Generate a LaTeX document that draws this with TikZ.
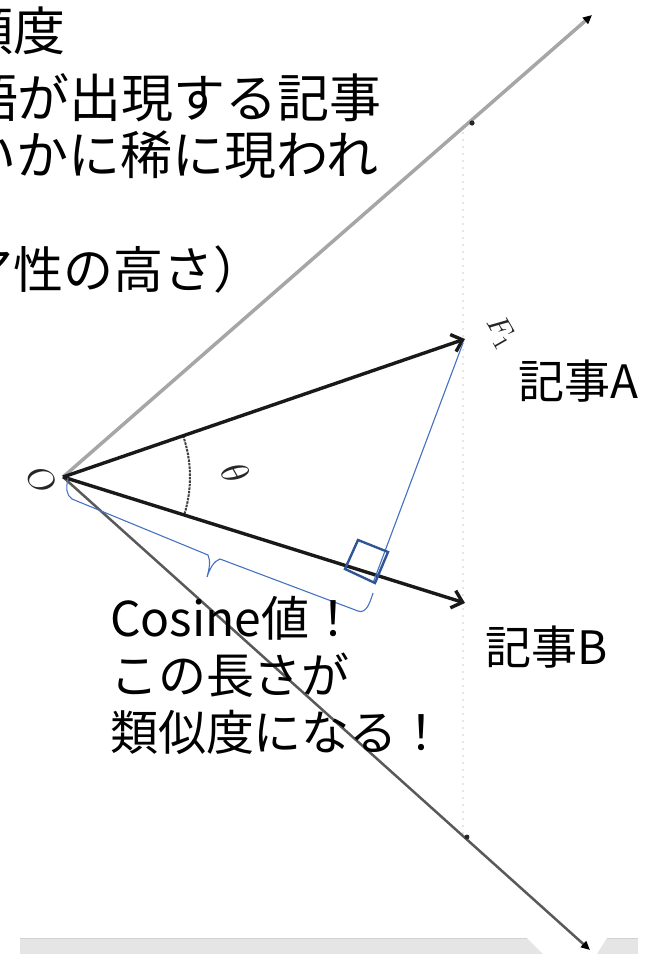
\documentclass[tikz,border=0pt]{standalone}
\usepackage{fontspec}
\setmainfont{Noto Sans CJK JP}
\usetikzlibrary{arrows.meta}
\definecolor{officeblue}{RGB}{68,114,196}
\definecolor{darkblue}{RGB}{47,85,151}
\begin{document}
\begin{tikzpicture}[x=1pt,y=-1pt,
  txt/.style={inner sep=0pt, outer sep=0pt, text=black},
  bigtxt/.style={txt, font=\fontsize{52}{57}\selectfont},
  midtxt/.style={txt, font=\fontsize{48}{57}\selectfont},
  arttxt/.style={txt, font=\fontsize{46}{50}\selectfont},
  scan/.style={txt, text=black!85},
  axisA/.style={draw=black!35, line width=3.5pt, -{Triangle[length=9pt,width=8pt,color=black]}},
  axisB/.style={draw=black!65, line width=2.5pt, -{Triangle[length=9pt,width=8pt,color=black]}},
  vec/.style={draw=black!90, line width=3.4pt, -{Straight Barb[length=10pt,width=18pt]}},
  blueline/.style={draw=officeblue, line width=1.1pt},
  sq/.style={draw=darkblue, line width=2.4pt},
  tickmark/.style={fill=black!85},
  band/.style={fill=black!10, draw=none}
]
\useasboundingbox (0,0) rectangle (654,954);
\clip (0,0) rectangle (654,954);

% bottom grey band with white notch
\fill[band] (20,954) -- (20,938) -- (527,938) -- (543,954) -- cycle;
\fill[band] (597,954) -- (607,938) -- (638,938) -- (638,954) -- cycle;
\draw[black!18, line width=0.8pt] (20,938) -- (527,938) (607,938) -- (638,938);

% coordinates
\coordinate (O) at (63,477);
\coordinate (Xtip) at (592,15);
\coordinate (Ytip) at (590,950);
\coordinate (A) at (465,339);
\coordinate (B) at (465,603);
\coordinate (Afoot) at (463,343);
\coordinate (P) at (373,583);
\coordinate (V1) at (463,125);
\coordinate (V2) at (463,835);

% faint dotted vertical
\draw[black!10, line width=1.5pt, dash pattern=on 2pt off 5pt] (V1) -- (V2);

% axes
\draw[axisA] (O) -- (Xtip);
\draw[axisB] (O) -- (Ytip);
\fill[tickmark] (472,123) circle (2.6);
\fill[tickmark] (467,837) circle (2.4);

% theta arc
\draw[black!75, line width=2pt, dash pattern=on 2.5pt off 1pt]
  (O) ++(-19:127) arc[start angle=-19, end angle=17, radius=127];

% vectors
\draw[vec] (O) -- (A);
\draw[vec] (O) -- (B);

% blue perpendicular, right-angle square, brace
\draw[blueline] (Afoot) -- (P);
\draw[sq] (358,540) -- (388,552) -- (375,583) -- (345,569) -- cycle;
\draw[blueline] (68,478) .. controls (66,488) and (66,495) .. (72,499) -- (208,555)
  .. controls (211,561) and (209,570) .. (207,577)
  .. controls (210,568) and (214,561) .. (220,559) -- (358,611)
  .. controls (366,614) and (370,603) .. (373,593);

% scanned labels
\node[scan, rotate=-55] (lO) at (42,480) {\scalebox{3.4}{$O$}};
\node[scan, rotate=-60] (lth) at (236,473) {\scalebox{3.8}{$\theta$}};
\node[scan, rotate=-60] (lF) at (501,333) {\scalebox{3.0}{$F_1$}};

% top-left text (cut at left edge)
\node[bigtxt, anchor=base west] (t1) at (-38,50) {頻度};
\node[bigtxt, anchor=base west] (t2) at (-34,117) {語が出現する記事};
\node[bigtxt, anchor=base west] (t3) at (-35,174) {いかに稀に現われ};
\node[txt, font=\fontsize{50}{57}\selectfont, anchor=base west] (t5) at (-36,288) {ア性の高さ）};

% article labels
\node[arttxt, anchor=base west] (artA) at (518,398) {記事A};
\node[arttxt, anchor=base west] (artB) at (485,664) {記事B};

% explanation
\node[midtxt, anchor=base west] (c1) at (110,636) {Cosine値！};
\node[midtxt, anchor=base west] (c2) at (110,693) {この長さが};
\node[midtxt, anchor=base west] (c3) at (110,750) {類似度になる！};
\end{tikzpicture}
\end{document}
